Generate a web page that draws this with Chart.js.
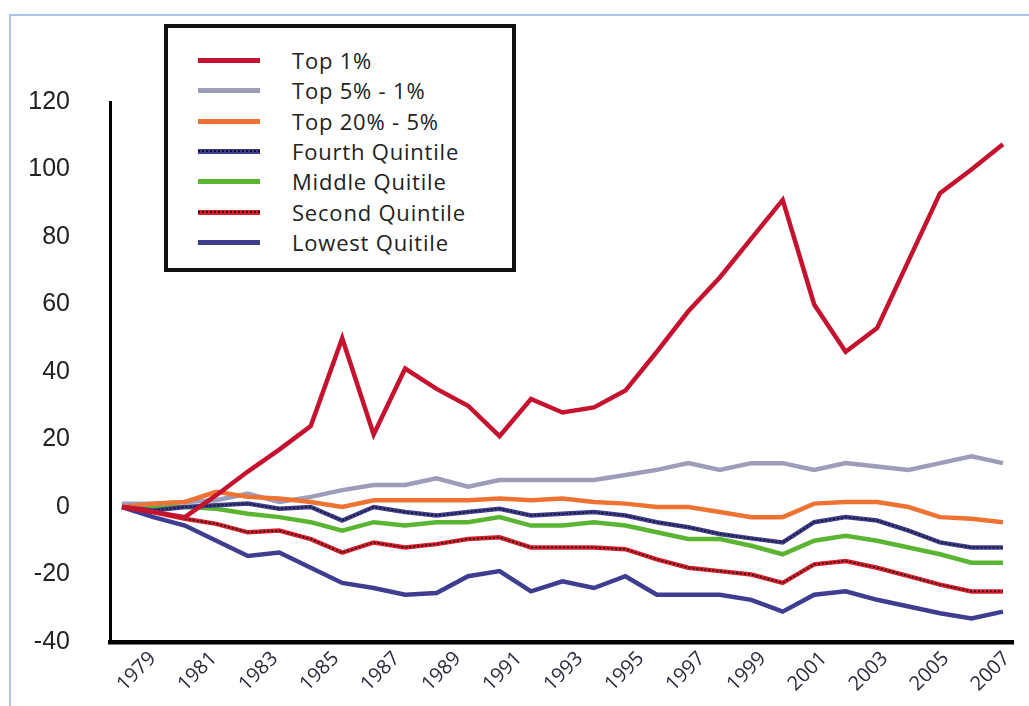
<!DOCTYPE html>
<html><head><meta charset="utf-8">
<script src="https://cdn.jsdelivr.net/npm/chart.js@4/dist/chart.umd.min.js"></script>
<style>
html,body{margin:0;padding:0;background:#fff;}
#wrap{position:relative;width:1029px;height:706px;overflow:hidden;background:#fff;}
#frame{position:absolute;left:9px;top:14px;width:1030px;height:700px;border-left:2px solid #a9c4ea;border-top:2px solid #a9c4ea;box-sizing:border-box;}
#c{position:absolute;left:0;top:0;}
#legend{position:absolute;left:164px;top:24px;width:352px;height:248px;border:4px solid #111;box-sizing:border-box;background:#fff;font-family:"Open Sans",sans-serif;font-size:22px;letter-spacing:0.8px;color:#222;}
.item{position:absolute;left:0;width:340px;height:30px;}
.swatch{position:absolute;left:30px;top:13px;width:62px;height:5px;}
.dots{position:absolute;left:0;top:1.5px;width:100%;height:2px;background-image:repeating-linear-gradient(90deg,#111 0 2px,transparent 2px 4px);}
.label{position:absolute;left:124px;top:0;line-height:30px;white-space:nowrap;}
</style>
</head><body>
<div id="wrap">
<div id="frame"></div>
<canvas id="c" width="1029" height="706"></canvas>
<div id="legend"></div>
</div>
<script>
const years = [1979,1980,1981,1982,1983,1984,1985,1986,1987,1988,1989,1990,1991,1992,1993,1994,1995,1996,1997,1998,1999,2000,2001,2002,2003,2004,2005,2006,2007];
const tickYears = [1979,1981,1983,1985,1987,1989,1991,1993,1995,1997,1999,2001,2003,2005,2007];
const yTicks = [-40,-20,0,20,40,60,80,100,120];

const seriesNames = ["Top 1%","Top 5% - 1%","Top 20% - 5%","Fourth Quintile","Middle Quitile","Second Quintile","Lowest Quitile"];

const top1    = [0,-1.5,-3,3.5,10.5,17,24,50,21.5,41,35,30,21,32,28,29.5,34.5,46,58,68,79.5,91,60,46,53,73,93,100,107.5];
const top5to1 = [1,1,1.5,2,4,1.5,3,5,6.5,6.5,8.5,6,8,8,8,8,9.5,11,13,11,13,13,11,13,12,11,13,15,13];
const top20to5= [0,1,1.5,4.5,3,2.5,1.5,0,2,2,2,2,2.5,2,2.5,1.5,1,0,0,-1.5,-3,-3,1,1.5,1.5,0,-3,-3.5,-4.5];
const fourth  = [0,-1,0,0.5,1,-0.5,0,-4,0,-1.5,-2.5,-1.5,-0.5,-2.5,-2,-1.5,-2.5,-4.5,-6,-8,-9.3,-10.5,-4.5,-3,-4,-7,-10.5,-12,-12];
const middle  = [0,0,0,-0.5,-2,-3,-4.5,-7,-4.5,-5.5,-4.5,-4.5,-3,-5.5,-5.5,-4.5,-5.5,-7.5,-9.5,-9.5,-11.5,-14,-10,-8.5,-10,-12,-14,-16.5,-16.5];
const second  = [0,-1.5,-3.5,-5,-7.5,-7,-9.5,-13.5,-10.5,-12,-11,-9.5,-9,-12,-12,-12,-12.5,-15.5,-18,-19,-20,-22.5,-17,-16,-18,-20.5,-23,-25,-25];
const lowest  = [0,-3,-5.5,-10,-14.5,-13.5,-18,-22.5,-24,-26,-25.5,-20.5,-19,-25,-22,-24,-20.5,-26,-26,-26,-27.5,-31,-26,-25,-27.5,-29.5,-31.5,-33,-31];

const seriesValues = [top1, top5to1, top20to5, fourth, middle, second, lowest];
const seriesColors = ["#c5122f","#9d9cb9","#ee7232","#3e3c8e","#5bb532","#d71f2b","#3f3d90"];
const seriesDotted = [false,false,false,true,false,true,false];
const seriesOrder  = [1,5,4,3,6,2,7];

const pts = v => v.map((y,i)=>({x:years[i], y}));

const datasets = [];
seriesValues.forEach((v,i)=>{
  datasets.push({label:seriesNames[i], data:pts(v), borderColor:seriesColors[i], borderWidth:4.5,
    pointRadius:0, tension:0, fill:false, order:seriesOrder[i]*2});
  if (seriesDotted[i]) {
    datasets.push({label:seriesNames[i]+" dots", data:pts(v), borderColor:"#151515", borderWidth:1.6,
      borderDash:[2,2], pointRadius:0, tension:0, fill:false, order:seriesOrder[i]*2-1});
  }
});

const legend = document.getElementById('legend');
seriesNames.forEach((n,i)=>{
  const it = document.createElement('div'); it.className='item'; it.style.top = (17 + i*30.3)+'px';
  const sw = document.createElement('div'); sw.className='swatch'; sw.style.background = seriesColors[i];
  if (seriesDotted[i]) { const d=document.createElement('div'); d.className='dots'; sw.appendChild(d); }
  const lb = document.createElement('div'); lb.className='label'; lb.textContent = n;
  it.appendChild(sw); it.appendChild(lb); legend.appendChild(it);
});

new Chart(document.getElementById('c'), {
  type:'line',
  data:{datasets},
  options:{
    responsive:false, animation:false, devicePixelRatio:1,
    layout:{padding:{top:102,right:11,left:0,bottom:0}},
    plugins:{legend:{display:false}, tooltip:{enabled:false}},
    scales:{
      x:{type:'linear', min:1978.62, max:2007.32, position:'bottom',
        grid:{display:false, drawTicks:false}, ticks:{display:false},
        border:{display:true,color:'#000',width:4.5}},
      xl:{type:'linear', min:1977.6, max:2007.2, position:'bottom',
        afterBuildTicks: s=>{ s.ticks = tickYears.map(v=>({value:v})); },
        afterFit: s=>{ s.height = 64; },
        grid:{display:false, drawTicks:false}, border:{display:false},
        ticks:{autoSkip:false, minRotation:45, maxRotation:45, padding:5, color:'#2a2a3a',
          font:{family:'"Open Sans"', size:20}, callback:v=>String(v)}},
      y:{type:'linear', min:-40, max:120,
        afterBuildTicks: s=>{ s.ticks = yTicks.map(v=>({value:v})); },
        afterFit: s=>{ s.width = 110; },
        grid:{display:false, drawTicks:false},
        border:{display:true,color:'#000',width:3},
        ticks:{padding:40, color:'#222', font:{family:'"Liberation Sans"', size:25}}}
    }
  }
});
</script>
</body></html>
